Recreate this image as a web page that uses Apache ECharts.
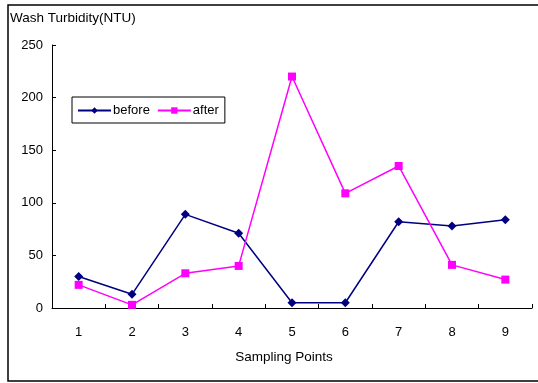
<!DOCTYPE html>
<html>
<head>
<meta charset="utf-8">
<script src="https://cdn.jsdelivr.net/npm/echarts@6/dist/echarts.min.js"></script>
<style>
  html, body { margin: 0; padding: 0; background: #fff; }
  #chart { width: 538px; height: 383px; }
</style>
</head>
<body>
<div id="chart"></div>
<script>
// Sampling points along the x axis
const categories = ['1', '2', '3', '4', '5', '6', '7', '8', '9'];
// Wash turbidity (NTU) before and after treatment
const beforeValues = [30, 13, 89, 71, 5, 5, 82, 78, 84];
const afterValues = [22, 3, 33, 40, 220, 109, 135, 41, 27];
const yTicks = { min: 0, max: 250, interval: 50 };

const font = 'Liberation Sans, Arial, sans-serif';
const chart = echarts.init(document.getElementById('chart'), null, { renderer: 'canvas' });

chart.setOption({
  animation: false,
  backgroundColor: '#fff',
  textStyle: { fontFamily: font },
  title: {
    text: 'Wash Turbidity(NTU)',
    left: 10,
    top: 11,
    padding: 0,
    textStyle: { fontSize: 13.5, fontWeight: 'normal', color: '#000', fontFamily: font }
  },
  graphic: [{
    type: 'rect',
    shape: { x: 8, y: 5, width: 540, height: 376 },
    style: { fill: 'none', stroke: '#000', lineWidth: 1.5 },
    silent: true
  }],
  legend: {
    left: 72,
    top: 97,
    orient: 'horizontal',
    padding: [7, 6, 6, 5],
    itemGap: 7,
    itemWidth: 33,
    itemHeight: 8,
    borderColor: '#000',
    borderWidth: 1,
    textStyle: { fontSize: 13, color: '#000', fontFamily: font, padding: [0, 0, 0, -3] },
    data: ['before', 'after']
  },
  grid: { left: 52, right: 6, top: 45, bottom: 75, containLabel: false },
  xAxis: {
    type: 'category',
    data: categories,
    boundaryGap: true,
    name: 'Sampling Points',
    nameLocation: 'middle',
    nameGap: 42,
    nameTextStyle: { fontSize: 13.5, color: '#000', fontFamily: font, padding: [0, 16, 0, 0] },
    axisLine: { lineStyle: { color: '#000', width: 1 } },
    axisTick: { show: true, inside: true, length: 4, lineStyle: { color: '#000' } },
    axisLabel: { fontSize: 13, color: '#000', margin: 18, fontFamily: font },
    splitLine: { show: false }
  },
  yAxis: {
    type: 'value',
    min: yTicks.min,
    max: yTicks.max,
    interval: yTicks.interval,
    axisLine: { show: true, lineStyle: { color: '#000', width: 1 } },
    axisTick: { show: true, inside: true, length: 4, lineStyle: { color: '#000' } },
    axisLabel: { fontSize: 13, color: '#000', margin: 9, fontFamily: font },
    splitLine: { show: false }
  },
  series: [
    {
      name: 'before',
      type: 'line',
      data: beforeValues,
      symbol: 'diamond',
      symbolSize: 9,
      color: '#000080',
      lineStyle: { color: '#000080', width: 1.5 },
      itemStyle: { color: '#000080' }
    },
    {
      name: 'after',
      type: 'line',
      data: afterValues,
      symbol: 'rect',
      symbolSize: 8,
      color: '#FF00FF',
      lineStyle: { color: '#FF00FF', width: 1.5 },
      itemStyle: { color: '#FF00FF' }
    }
  ]
});
</script>
</body>
</html>
